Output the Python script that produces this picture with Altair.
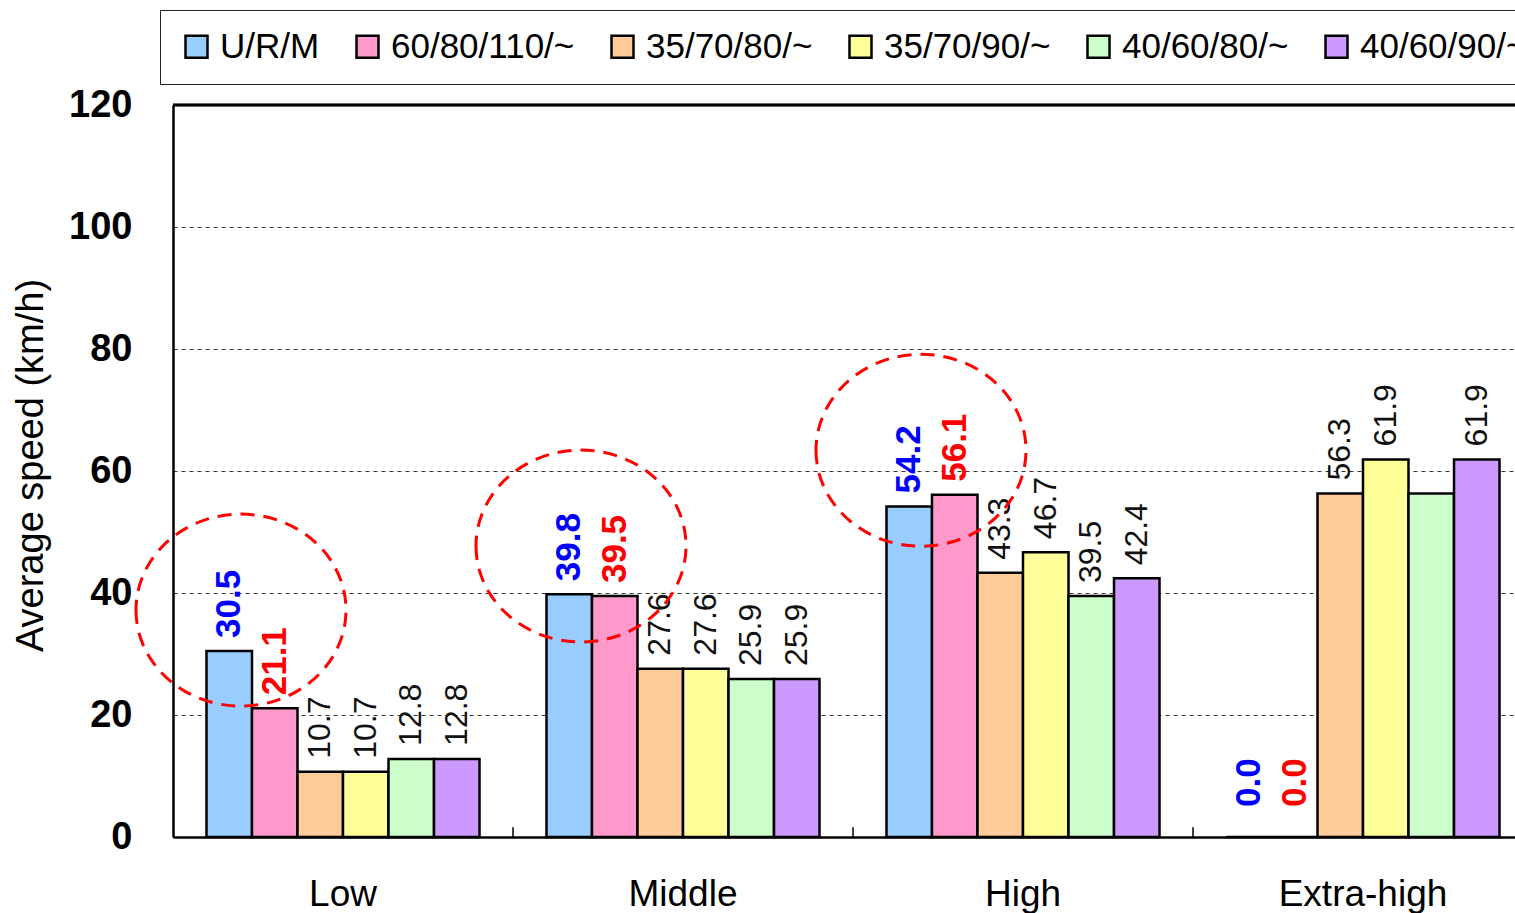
import altair as alt
import pandas as pd

# ---- data -------------------------------------------------------------
categories = ["Low", "Middle", "High", "Extra-high"]
series = ["U/R/M", "60/80/110/~", "35/70/80/~", "35/70/90/~", "40/60/80/~", "40/60/90/~"]
fills = ["#99CCFF", "#FF99CC", "#FFCC99", "#FFFF99", "#CCFFCC", "#CC99FF"]

speed_low = [30.5, 21.1, 10.7, 10.7, 12.8, 12.8]
speed_middle = [39.8, 39.5, 27.6, 27.6, 25.9, 25.9]
speed_high = [54.2, 56.1, 43.3, 46.7, 39.5, 42.4]
speed_extra = [0.0, 0.0, 56.3, 61.9, 56.3, 61.9]
# the 40/60/80/~ bar of the Extra-high group carries no value label
labelled_low = [True] * 6
labelled_middle = [True] * 6
labelled_high = [True] * 6
labelled_extra = [True, True, True, True, False, True]

highlight_series = ["U/R/M", "60/80/110/~"]
highlight_colors = ["#0000FF", "#FF0000"]

# dashed rings drawn around the highlighted pairs (group, centre height in km/h)
ring_category = ["Low", "Middle", "High"]
ring_center = [37.2, 47.7, 63.4]

# category boundaries that get a small tick on the x axis
boundary_category = ["Middle", "High", "Extra-high"]

# ---- tables -------------------------------------------------------------
rows = []
for cat, vals, shown in zip(
    categories,
    [speed_low, speed_middle, speed_high, speed_extra],
    [labelled_low, labelled_middle, labelled_high, labelled_extra],
):
    for s, v, show in zip(series, vals, shown):
        rows.append({"category": cat, "series": s, "value": v, "show": show})
df = pd.DataFrame(rows)
df_labels = df[df["show"]]
is_hi = df_labels["series"].isin(highlight_series)
df_hi = df_labels[is_hi & (df_labels["value"] > 0)]
df_hi_zero = df_labels[is_hi & (df_labels["value"] == 0)]
df_plain = df_labels[~is_hi]
df_rings = pd.DataFrame({"category": ring_category, "value": ring_center})
df_bounds = pd.DataFrame({"category": boundary_category})

# ---- layout / style -----------------------------------------------------
FONT = "Liberation Sans"
W, H = 1342, 732
GROUP_SPAN = 1360          # four groups of 340 px; the last one runs past the right edge
GROUP_STEP = GROUP_SPAN / len(categories)
ELLIPSE = "M-1,0A1,0.914,0,1,0,1,0A1,0.914,0,1,0,-1,0Z"

x_scale = alt.Scale(range=[0, GROUP_SPAN], paddingInner=0, paddingOuter=0)
x_axis = alt.Axis(
    title=None, labelAngle=0, labelFont=FONT, labelFontSize=37, labelColor="black",
    labelPadding=39, ticks=False, tickSize=0, domainColor="black", domainWidth=2.5,
    grid=False,
)


def x_enc(band=0.5):
    return alt.X("category:N", sort=categories, scale=x_scale, axis=x_axis, bandPosition=band)


xoff = alt.XOffset(
    "series:N", sort=series,
    scale=alt.Scale(range=[0, GROUP_STEP], paddingInner=0, paddingOuter=0.736),
)

y_scale = alt.Scale(domain=[0, 120], nice=False)
y_enc = alt.Y(
    "value:Q", scale=y_scale,
    axis=alt.Axis(
        values=[0, 20, 40, 60, 80, 100, 120], title="Average speed (km/h)",
        labelFont=FONT, labelFontSize=38, labelFontWeight="bold", labelColor="black",
        labelPadding=41, ticks=False, tickSize=0,
        domainColor="black", domainWidth=2.5,
        grid=True, gridColor="#333333", gridDash=[4, 4], gridWidth=1.2,
        titleFont=FONT, titleFontSize=38, titleFontWeight="normal", titleColor="black",
        titleAngle=270, titleAlign="center", titleBaseline="middle",
        titleX=-142, titleY=360,
    ),
)

bars = alt.Chart(df).mark_bar(stroke="black", strokeWidth=2.5).encode(
    x=x_enc(),
    xOffset=xoff,
    y=y_enc,
    fill=alt.Fill(
        "series:N", sort=series,
        scale=alt.Scale(domain=series, range=fills),
        legend=alt.Legend(
            title=None, orient="none", legendX=-13, legendY=-95,
            direction="horizontal", columns=6,
            symbolType="square", symbolSize=484, symbolStrokeColor="black",
            symbolStrokeWidth=2.5, symbolOpacity=1,
            labelFont=FONT, labelFontSize=35, labelColor="black", labelOffset=6,
            labelLimit=400, columnPadding=30, padding=19,
            strokeColor="#222222", fillColor="white",
        ),
    ),
)


def value_labels(data, gap, size, weight, colored):
    enc = dict(
        x=x_enc(), xOffset=xoff, y=y_enc,
        text=alt.Text("value:Q", format=".1f"),
    )
    if colored:
        enc["color"] = alt.Color(
            "series:N",
            scale=alt.Scale(domain=highlight_series, range=highlight_colors),
            legend=None,
        )
    mark = alt.Chart(data).mark_text(
        angle=270, align="left", baseline="middle", dx=gap,
        font=FONT, fontSize=size, fontWeight=weight,
        **({} if colored else {"color": "#111111"}),
    )
    return mark.encode(**enc)


labels_plain = value_labels(df_plain, 13, 32, "normal", False)
labels_hi = value_labels(df_hi, 13, 35, "bold", True)
labels_hi_zero = value_labels(df_hi_zero, 30, 35, "bold", True)

top_border = alt.Chart(df_bounds).mark_rule(color="black", strokeWidth=2.5).encode(
    y=alt.datum(120), x=alt.value(0), x2=alt.value(GROUP_SPAN),
)

bound_ticks = alt.Chart(df_bounds).mark_rule(color="black", strokeWidth=1.5).encode(
    x=x_enc(0), y=alt.datum(0), y2=alt.datum(1.6),
)

rings = alt.Chart(df_rings).mark_point(
    shape=ELLIPSE, size=210 * 210, filled=False, stroke="#FF0000",
    strokeWidth=3, strokeDash=[14, 9], opacity=1,
).encode(x=x_enc(0.2), y=y_enc)

chart = alt.layer(
    bars, bound_ticks, top_border, labels_plain, labels_hi, labels_hi_zero, rings
).properties(
    width=W, height=H,
    padding={"left": 173, "top": 105, "right": 0, "bottom": 76},
    autosize=alt.AutoSizeParams(type="none"),
    background="white",
).configure_view(stroke=None)

chart.save("out.html", embed_options={"renderer": "svg", "actions": False})
